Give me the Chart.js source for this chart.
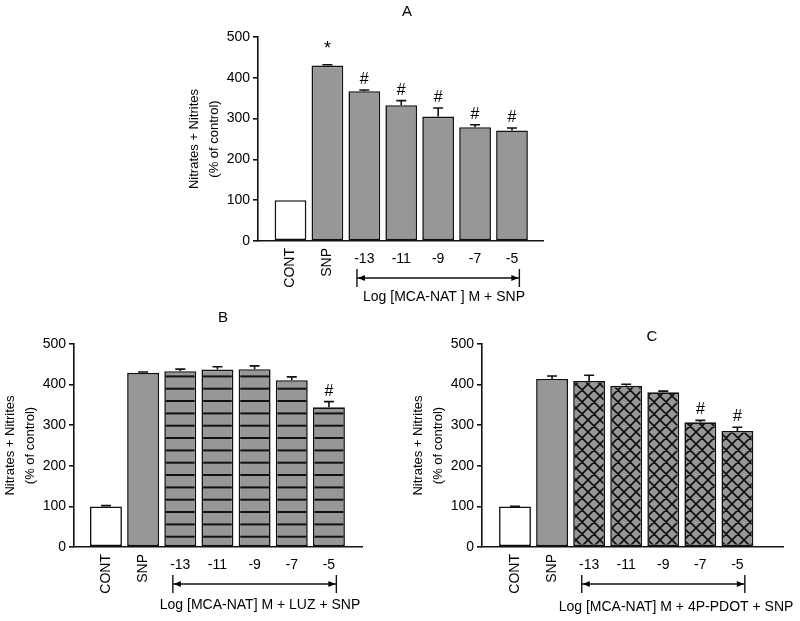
<!DOCTYPE html>
<html>
<head>
<meta charset="utf-8">
<script src="https://cdn.jsdelivr.net/npm/chart.js@4.4.1/dist/chart.umd.min.js"></script>
<style>
  html, body { margin: 0; padding: 0; background: #fff; }
  #wrap { position: relative; width: 800px; height: 621px; }
  #wrap canvas { position: absolute; left: 0; top: 0; }
</style>
</head>
<body>
<div id="wrap">
  <canvas id="chartA" width="800" height="621"></canvas>
  <canvas id="chartB" width="800" height="621"></canvas>
  <canvas id="chartC" width="800" height="621"></canvas>
</div>
<script>
// --- data ---
const categories = ['CONT', 'SNP', '-13', '-11', '-9', '-7', '-5'];
const yTicks = [0, 100, 200, 300, 400, 500];

const valuesA = [100, 430, 367, 333, 305, 279, 271];
const errorsA = [0, 2, 3, 11, 21, 6, 6];
const marksA  = ['', '*', '#', '#', '#', '#', '#'];

const valuesB = [100, 429, 433, 437, 438, 411, 344];
const errorsB = [2, 2, 5, 7, 8, 8, 14];
const marksB  = ['', '', '', '', '', '', '#'];

const valuesC = [100, 414, 409, 397, 381, 307, 286];
const errorsC = [0.5, 7, 14, 4, 3, 5, 9];
const marksC  = ['', '', '', '', '', '#', '#'];

// --- styling ---
const FONT = 'Arial, "Liberation Sans", Helvetica, sans-serif';
const GRAY = '#979797';
const INK = '#111';
const Y_W = 74;   // width of the y axis box (labels + title)
const X_H = 20;   // height of the x axis box

Chart.defaults.font.family = FONT;
Chart.defaults.font.size = 14;
Chart.defaults.color = '#000';

function makePattern(kind) {
    const t = document.createElement('canvas');
    const c = t.getContext('2d');
    if (kind === 'lines') {
        t.width = 8; t.height = 37;
        c.fillStyle = GRAY; c.fillRect(0, 0, 8, 37);
        c.strokeStyle = INK; c.lineWidth = 2;
        [6.4, 18.7, 31.0].forEach(yy => {
            c.beginPath(); c.moveTo(0, yy); c.lineTo(8, yy); c.stroke();
        });
    } else {
        t.width = 12; t.height = 12;
        c.fillStyle = GRAY; c.fillRect(0, 0, 12, 12);
        c.strokeStyle = INK; c.lineWidth = 1.7;
        c.beginPath();
        [-12, 0, 12].forEach(k => {
            c.moveTo(-2 + k, -2); c.lineTo(14 + k, 14);
            c.moveTo(14 + k, -2); c.lineTo(-2 + k, 14);
        });
        c.stroke();
    }
    return document.createElement('canvas').getContext('2d').createPattern(t, 'repeat');
}

function decorPlugin(p) {
    return {
        id: 'decor',
        afterDatasetsDraw(chart) {
            const { ctx, scales: { x, y } } = chart;
            const base = y.getPixelForValue(0);
            ctx.save();
            ctx.strokeStyle = INK;
            ctx.fillStyle = '#000';
            ctx.lineWidth = 1.6;

            // error bars (upper only) + significance marks
            p.values.forEach((v, i) => {
                const cx = x.getPixelForValue(i);
                const top = y.getPixelForValue(v + p.errors[i]);
                if (p.errors[i] > 0) {
                    ctx.beginPath();
                    ctx.moveTo(cx, y.getPixelForValue(v));
                    ctx.lineTo(cx, top);
                    ctx.moveTo(cx - 5, top);
                    ctx.lineTo(cx + 5, top);
                    ctx.stroke();
                }
                const m = p.marks[i];
                if (m) {
                    ctx.textAlign = 'center';
                    ctx.textBaseline = 'alphabetic';
                    ctx.font = (m === '*' ? '18px ' : '16px ') + FONT;
                    ctx.fillText(m, cx, top - (m === '*' ? 11 : 6));
                }
            });

            // category labels: words rotated, numbers flat
            ctx.font = '14px ' + FONT;
            categories.forEach((lab, i) => {
                const cx = x.getPixelForValue(i);
                if (isNaN(Number(lab))) {
                    ctx.save();
                    ctx.translate(cx, base + 7);
                    ctx.rotate(-Math.PI / 2);
                    ctx.textAlign = 'right';
                    ctx.textBaseline = 'middle';
                    ctx.fillText(lab, 0, 0);
                    ctx.restore();
                } else {
                    ctx.textAlign = 'center';
                    ctx.textBaseline = 'middle';
                    ctx.fillText(lab, cx, base + 18);
                }
            });

            // double-headed bracket under the dose range
            const xl = x.getPixelForValue(2 - 0.2);
            const xr = x.getPixelForValue(6 + 0.2);
            const hy = base + 37;
            ctx.lineWidth = 1.4;
            ctx.beginPath();
            ctx.moveTo(xl, base + 28); ctx.lineTo(xl, base + 46);
            ctx.moveTo(xr, base + 28); ctx.lineTo(xr, base + 46);
            ctx.moveTo(xl, hy); ctx.lineTo(xr, hy);
            ctx.stroke();
            ctx.beginPath();
            ctx.moveTo(xl + 1, hy); ctx.lineTo(xl + 8, hy - 3); ctx.lineTo(xl + 8, hy + 3); ctx.closePath();
            ctx.moveTo(xr - 1, hy); ctx.lineTo(xr - 8, hy - 3); ctx.lineTo(xr - 8, hy + 3); ctx.closePath();
            ctx.fill();

            ctx.font = '14px ' + FONT;
            ctx.textAlign = 'center';
            ctx.textBaseline = 'middle';
            ctx.fillText(p.rangeLabel, p.rangeLabelX, base + p.rangeLabelDy);

            // panel letter
            ctx.font = '15px ' + FONT;
            ctx.fillText(p.letter, p.letterX, p.letterY);
            ctx.restore();
        }
    };
}

function makePanel(id, p) {
    const area = p.area;
    new Chart(document.getElementById(id), {
        type: 'bar',
        data: {
            datasets: [{
                data: p.values.map((v, i) => ({ x: i, y: v })),
                backgroundColor: categories.map((c, i) => i === 0 ? '#fff' : (i === 1 ? GRAY : p.fill)),
                borderColor: INK,
                borderWidth: 1.6,
                borderSkipped: false,
                barPercentage: 0.86,
                categoryPercentage: 1
            }]
        },
        options: {
            responsive: false,
            animation: false,
            devicePixelRatio: 1,
            events: [],
            layout: {
                padding: {
                    left: area.left - Y_W,
                    top: area.top,
                    right: 800 - area.right,
                    bottom: 621 - area.bottom - X_H
                }
            },
            plugins: { legend: { display: false }, tooltip: { enabled: false } },
            scales: {
                x: {
                    type: 'linear',
                    offset: false,
                    min: p.xMin,
                    max: p.xMax,
                    grid: { display: false, offset: false },
                    ticks: { display: false },
                    border: { color: INK, width: 1.6 },
                    afterFit: s => { s.height = X_H; }
                },
                y: {
                    min: 0,
                    max: 500,
                    afterBuildTicks: s => { s.ticks = yTicks.map(v => ({ value: v })); },
                    grid: { drawOnChartArea: false, tickLength: 5, color: INK, lineWidth: 1.6 },
                    border: { color: INK, width: 1.6 },
                    ticks: { color: '#000', font: { size: 14 }, padding: 3 },
                    title: {
                        display: true,
                        text: ['Nitrates + Nitrites', '(% of control)'],
                        color: '#000',
                        font: { size: 13, lineHeight: '20px' },
                        padding: { top: 0, bottom: 0 }
                    },
                    afterFit: s => { s.width = Y_W; }
                }
            }
        },
        plugins: [decorPlugin(p)]
    });
}

makePanel('chartA', {
    values: valuesA, errors: errorsA, marks: marksA, fill: GRAY,
    area: { left: 258, right: 543, top: 37, bottom: 241 },
    xMin: -0.88, xMax: 6.84,
    rangeLabel: 'Log [MCA-NAT ] M + SNP', rangeLabelX: 444, rangeLabelDy: 56,
    letter: 'A', letterX: 407, letterY: 12
});

makePanel('chartB', {
    values: valuesB, errors: errorsB, marks: marksB, fill: makePattern('lines'),
    area: { left: 74, right: 362, top: 344, bottom: 547 },
    xMin: -0.86, xMax: 6.89,
    rangeLabel: 'Log [MCA-NAT] M + LUZ + SNP', rangeLabelX: 260, rangeLabelDy: 58,
    letter: 'B', letterX: 223, letterY: 318
});

makePanel('chartC', {
    values: valuesC, errors: errorsC, marks: marksC, fill: makePattern('cross'),
    area: { left: 482, right: 783, top: 344, bottom: 547 },
    xMin: -0.89, xMax: 7.23,
    rangeLabel: 'Log [MCA-NAT] M + 4P-PDOT + SNP', rangeLabelX: 676, rangeLabelDy: 60,
    letter: 'C', letterX: 652, letterY: 337
});
</script>
</body>
</html>
